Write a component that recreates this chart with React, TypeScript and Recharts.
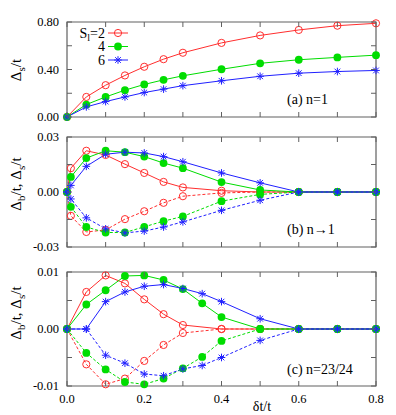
import React from 'react';
import { LineChart, Line, XAxis, YAxis, ReferenceArea, Legend } from 'recharts';

const FONT = '"Liberation Serif", "Times New Roman", serif';
const RED = '#ff2e2e';
const GREEN = '#00dd00';
const BLUE = '#2020ff';
const FRAME = '#606060';

const W = 396;
const PLOT_L = 67;
const PLOT_R = 376;

// ---- shared x ticks ----
const xTicks = [0, 0.1, 0.2, 0.3, 0.4, 0.5, 0.6, 0.7, 0.8];

// ---- panel (a): n = 1 ----
const xA = [0, 0.05, 0.1, 0.15, 0.2, 0.25, 0.3, 0.4, 0.5, 0.6, 0.7, 0.8];
const aS2 = [0, 0.169, 0.268, 0.35, 0.423, 0.487, 0.541, 0.624, 0.687, 0.733, 0.769, 0.789];
const aS4 = [0, 0.105, 0.169, 0.226, 0.274, 0.313, 0.347, 0.402, 0.452, 0.482, 0.502, 0.521];
const aS6 = [0, 0.085, 0.13, 0.169, 0.206, 0.235, 0.264, 0.305, 0.343, 0.369, 0.383, 0.392];
const aYTicks = [0, 0.2, 0.4, 0.6, 0.8];
const aYLabels = ['0.00', '', '0.40', '', '0.80'];

// ---- panel (b): n -> 1 ----
const xB = [0, 0.01, 0.05, 0.1, 0.15, 0.2, 0.25, 0.3, 0.4, 0.5, 0.6, 0.7, 0.8];
const bS2up = [0, 0.013, 0.0225, 0.0202, 0.0152, 0.0104, 0.0055, 0.0025, 0.0007, 0, 0, 0, 0];
const bS2dn = [0, -0.013, -0.0218, -0.0207, -0.0148, -0.0105, -0.0059, -0.0023, -0.0005, 0, 0, 0, 0];
const bS4up = [0, 0.0082, 0.0185, 0.0225, 0.0217, 0.0193, 0.0158, 0.013, 0.0054, 0.0011, 0, 0, 0];
const bS4dn = [0, -0.0081, -0.0191, -0.0221, -0.0221, -0.019, -0.0159, -0.0133, -0.005, -0.0013, 0, 0, 0];
const bS6up = [0, 0.0036, 0.014, 0.0206, 0.0217, 0.0213, 0.0193, 0.0165, 0.0104, 0.005, 0, 0, 0];
const bS6dn = [0, -0.0038, -0.0141, -0.0201, -0.0223, -0.0213, -0.0191, -0.0163, -0.01, -0.0045, 0, 0, 0];
const bYTicks = [-0.03, -0.015, 0, 0.015, 0.03];
const bYLabels = ['-0.03', '', '0.00', '', '0.03'];

// ---- panel (c): n = 23/24 ----
const xC2 = [0, 0.05, 0.1, 0.15, 0.2, 0.25, 0.3, 0.4, 0.5, 0.6, 0.7, 0.8];
const cS2up = [0, 0.0065, 0.0094, 0.008, 0.0052, 0.0026, 0.0007, 0, 0, 0, 0, 0];
const cS2dn = [0, -0.0062, -0.0097, -0.0087, -0.0056, -0.0028, -0.0007, 0, 0, 0, 0, 0];
const xC = [0, 0.05, 0.1, 0.15, 0.2, 0.25, 0.3, 0.35, 0.4, 0.5, 0.6, 0.7, 0.8];
const cS4up = [0, 0.0043, 0.0068, 0.0093, 0.0094, 0.0086, 0.007, 0.0045, 0.0021, 0, 0, 0, 0];
const cS4dn = [0, -0.0042, -0.0071, -0.0093, -0.0097, -0.0087, -0.0069, -0.0049, -0.0021, 0, 0, 0, 0];
const cS6up = [0, 0, 0.0048, 0.0065, 0.0075, 0.0078, 0.0071, 0.0062, 0.0048, 0.0018, 0, 0, 0];
const cS6dn = [0, 0, -0.0046, -0.006, -0.0079, -0.0082, -0.007, -0.0064, -0.005, -0.002, 0, 0, 0];
const cYTicks = [-0.01, -0.005, 0, 0.005, 0.01];
const cYLabels = ['-0.01', '', '0.00', '', '0.01'];

const legendNames = ['2', '4', '6'];

type Pt = { x: number; y: number };
type Marker = 'open' | 'fill' | 'star';
type Series = { key: string; data: Pt[]; color: string; marker: Marker; dashed: boolean; name: string };

const zip = (xs: number[], ys: number[]): Pt[] => xs.map((x, i) => ({ x, y: ys[i] }));

function drawMarker(kind: Marker, color: string, cx: number, cy: number, key?: any) {
  if (kind === 'open') {
    return <circle key={key} cx={cx} cy={cy} r={3.6} fill="none" stroke={color} strokeWidth={1} />;
  }
  if (kind === 'fill') {
    return <circle key={key} cx={cx} cy={cy} r={3.9} fill={color} stroke="none" />;
  }
  const s = 3.8;
  const d = s * 0.75;
  return (
    <path
      key={key}
      d={`M${cx - s},${cy}H${cx + s}M${cx},${cy - s}V${cy + s}M${cx - d},${cy - d}L${cx + d},${cy + d}M${cx - d},${cy + d}L${cx + d},${cy - d}`}
      stroke={color}
      strokeWidth={1}
      fill="none"
    />
  );
}

const dotRenderer = (kind: Marker, color: string) => (p: any) => {
  const { cx, cy, index } = p;
  if (cx == null || cy == null) return <g key={index} />;
  return drawMarker(kind, color, cx, cy, index);
};

const seriesA: Series[] = [
  { key: 'a2', data: zip(xA, aS2), color: RED, marker: 'open', dashed: false, name: legendNames[0] },
  { key: 'a4', data: zip(xA, aS4), color: GREEN, marker: 'fill', dashed: false, name: legendNames[1] },
  { key: 'a6', data: zip(xA, aS6), color: BLUE, marker: 'star', dashed: false, name: legendNames[2] },
];
const seriesB: Series[] = [
  { key: 'b2u', data: zip(xB, bS2up), color: RED, marker: 'open', dashed: false, name: '2b' },
  { key: 'b2d', data: zip(xB, bS2dn), color: RED, marker: 'open', dashed: true, name: '2s' },
  { key: 'b4u', data: zip(xB, bS4up), color: GREEN, marker: 'fill', dashed: false, name: '4b' },
  { key: 'b4d', data: zip(xB, bS4dn), color: GREEN, marker: 'fill', dashed: true, name: '4s' },
  { key: 'b6u', data: zip(xB, bS6up), color: BLUE, marker: 'star', dashed: false, name: '6b' },
  { key: 'b6d', data: zip(xB, bS6dn), color: BLUE, marker: 'star', dashed: true, name: '6s' },
];
const seriesC: Series[] = [
  { key: 'c2u', data: zip(xC2, cS2up), color: RED, marker: 'open', dashed: false, name: '2b' },
  { key: 'c2d', data: zip(xC2, cS2dn), color: RED, marker: 'open', dashed: true, name: '2s' },
  { key: 'c4u', data: zip(xC, cS4up), color: GREEN, marker: 'fill', dashed: false, name: '4b' },
  { key: 'c4d', data: zip(xC, cS4dn), color: GREEN, marker: 'fill', dashed: true, name: '4s' },
  { key: 'c6u', data: zip(xC, cS6up), color: BLUE, marker: 'star', dashed: false, name: '6b' },
  { key: 'c6d', data: zip(xC, cS6dn), color: BLUE, marker: 'star', dashed: true, name: '6s' },
];

type Part = [string, boolean];

const RotTitle = (p: any) => {
  const { lx, ly, parts } = p as { lx: number; ly: number; parts: Part[] };
  let shifted = false;
  return (
    <text
      x={lx}
      y={ly}
      transform={`rotate(-90 ${lx} ${ly})`}
      textAnchor="middle"
      fontFamily={FONT}
      fontSize={15}
      fill="#000"
    >
      {parts.map(([t, sub], i) => {
        let dy = 0;
        if (sub && !shifted) { dy = 3.5; shifted = true; }
        else if (!sub && shifted) { dy = -3.5; shifted = false; }
        return (
          <tspan key={i} dy={dy} fontSize={sub ? 11 : 15}>{t}</tspan>
        );
      })}
    </text>
  );
};

const FixedText = (p: any) => {
  const { tx, ty, txt, anchor } = p;
  return (
    <text x={tx} y={ty} textAnchor={anchor || 'middle'} fontFamily={FONT} fontSize={14} fill="#000">{txt}</text>
  );
};

type PanelProps = {
  top: number;
  height: number;
  plotTop: number;
  plotBottom: number;
  yDomain: [number, number];
  yTicks: number[];
  yLabels: string[];
  series: Series[];
  xLabels: boolean;
  yTitle: Part[];
  yTitleY: number;
  note: string;
  noteY: number;
  legend?: boolean;
  xTitle?: boolean;
};

function Panel(props: PanelProps) {
  const { top, height, plotTop, plotBottom, yDomain, yTicks, yLabels, series, xLabels, yTitle, yTitleY, note, noteY, legend, xTitle } = props;
  const plotH = plotBottom - plotTop;
  const xAxisH = top + height - plotBottom;

  const xTick = (p: any) => {
    const { x, y, payload, index } = p;
    const v = payload.value as number;
    const showLbl = xLabels && Math.round(v * 10) % 2 === 0;
    return (
      <g key={index}>
        <line x1={x} y1={y} x2={x} y2={y - 5} stroke={FRAME} strokeWidth={1} />
        <line x1={x} y1={y - plotH} x2={x} y2={y - plotH + 5} stroke={FRAME} strokeWidth={1} />
        {showLbl && (
          <text x={x} y={y + 17} textAnchor="middle" fontFamily={FONT} fontSize={12.5} fill="#000">
            {v.toFixed(1)}
          </text>
        )}
      </g>
    );
  };

  const yTick = (p: any) => {
    const { x, y, index } = p;
    const lbl = yLabels[index];
    return (
      <g key={index}>
        <line x1={x} y1={y} x2={x + 5} y2={y} stroke={FRAME} strokeWidth={1} />
        <line x1={PLOT_R} y1={y} x2={PLOT_R - 5} y2={y} stroke={FRAME} strokeWidth={1} />
        {lbl && (
          <text x={x - 8} y={y + 4.3} textAnchor="end" fontFamily={FONT} fontSize={12.5} fill="#000">
            {lbl}
          </text>
        )}
      </g>
    );
  };

  const renderLegend = () => {
    const items = series;
    return (
      <svg width={150} height={75} style={{ display: 'block' }}>
        {items.map((s, i) => {
          const yy = 33 + i * 13.5;
          return (
            <g key={s.key}>
              <text x={105} y={yy + 4.5} textAnchor="end" fontFamily={FONT} fontSize={14} fill="#000">
                {i === 0 ? (
                  <>
                    S<tspan dy={3} fontSize={10}>l</tspan><tspan dy={-3}>={s.name}</tspan>
                  </>
                ) : s.name}
              </text>
              <line x1={108} y1={yy} x2={128} y2={yy} stroke={s.color} strokeWidth={1} />
              {drawMarker(s.marker, s.color, 118, yy)}
            </g>
          );
        })}
      </svg>
    );
  };

  return (
    <div style={{ position: 'absolute', left: 0, top, width: W, height }}>
      <LineChart
        width={W}
        height={height}
        margin={{ top: plotTop - top, right: W - PLOT_R, bottom: 0, left: 0 }}
      >
        <XAxis
          dataKey="x"
          type="number"
          domain={[0, 0.8]}
          ticks={xTicks}
          interval={0}
          tickSize={0}
          tickMargin={0}
          axisLine={false}
          tickLine={false}
          height={xAxisH}
          tick={xTick}
          label={xTitle ? <FixedText tx={262} ty={411 - top} txt="δt/t" /> : undefined}
        />
        <YAxis
          type="number"
          domain={yDomain}
          ticks={yTicks}
          interval={0}
          width={PLOT_L}
          tickSize={0}
          tickMargin={0}
          axisLine={false}
          tickLine={false}
          tick={yTick}
          label={<RotTitle lx={21} ly={yTitleY - top} parts={yTitle} />}
        />
        <ReferenceArea
          x1={0}
          x2={0.8}
          y1={yDomain[0]}
          y2={yDomain[1]}
          fill="none"
          fillOpacity={0}
          stroke={FRAME}
          strokeWidth={1.2}
          ifOverflow="visible"
          label={<FixedText tx={287} ty={noteY - top} txt={note} anchor="start" />}
        />
        {series.map((s) => (
          <Line
            key={s.key}
            data={s.data}
            dataKey="y"
            name={s.name}
            type="linear"
            stroke={s.color}
            strokeWidth={1}
            strokeDasharray={s.dashed ? '3 2' : undefined}
            dot={dotRenderer(s.marker, s.color)}
            activeDot={false}
            isAnimationActive={false}
          />
        ))}
        {legend && (
          <Legend
            layout="vertical"
            align="center"
            verticalAlign="middle"
            wrapperStyle={{ left: 0, top: 0, width: 150, height: 75 }}
            content={renderLegend}
          />
        )}
      </LineChart>
    </div>
  );
}

export default function App() {
  return (
    <div style={{ position: 'absolute', left: 0, top: 0, width: W, height: 415, background: '#fff' }}>
      <Panel
        top={0}
        height={130}
        plotTop={22}
        plotBottom={117}
        yDomain={[0, 0.8]}
        yTicks={aYTicks}
        yLabels={aYLabels}
        series={seriesA}
        xLabels={false}
        yTitle={[['Δ', false], ['s', true], ['/t', false]]}
        yTitleY={70}
        note="(a) n=1"
        noteY={104}
        legend
      />
      <Panel
        top={130}
        height={130}
        plotTop={137}
        plotBottom={247}
        yDomain={[-0.03, 0.03]}
        yTicks={bYTicks}
        yLabels={bYLabels}
        series={seriesB}
        xLabels={false}
        yTitle={[['Δ', false], ['b', true], ['/t, Δ', false], ['s', true], ['/t', false]]}
        yTitleY={184}
        note="(b) n→1"
        noteY={234}
      />
      <Panel
        top={260}
        height={155}
        plotTop={272}
        plotBottom={386}
        yDomain={[-0.01, 0.01]}
        yTicks={cYTicks}
        yLabels={cYLabels}
        series={seriesC}
        xLabels
        yTitle={[['Δ', false], ['b', true], ['/t, Δ', false], ['s', true], ['/t', false]]}
        yTitleY={313}
        note="(c) n=23/24"
        noteY={374}
        xTitle
      />
    </div>
  );
}
